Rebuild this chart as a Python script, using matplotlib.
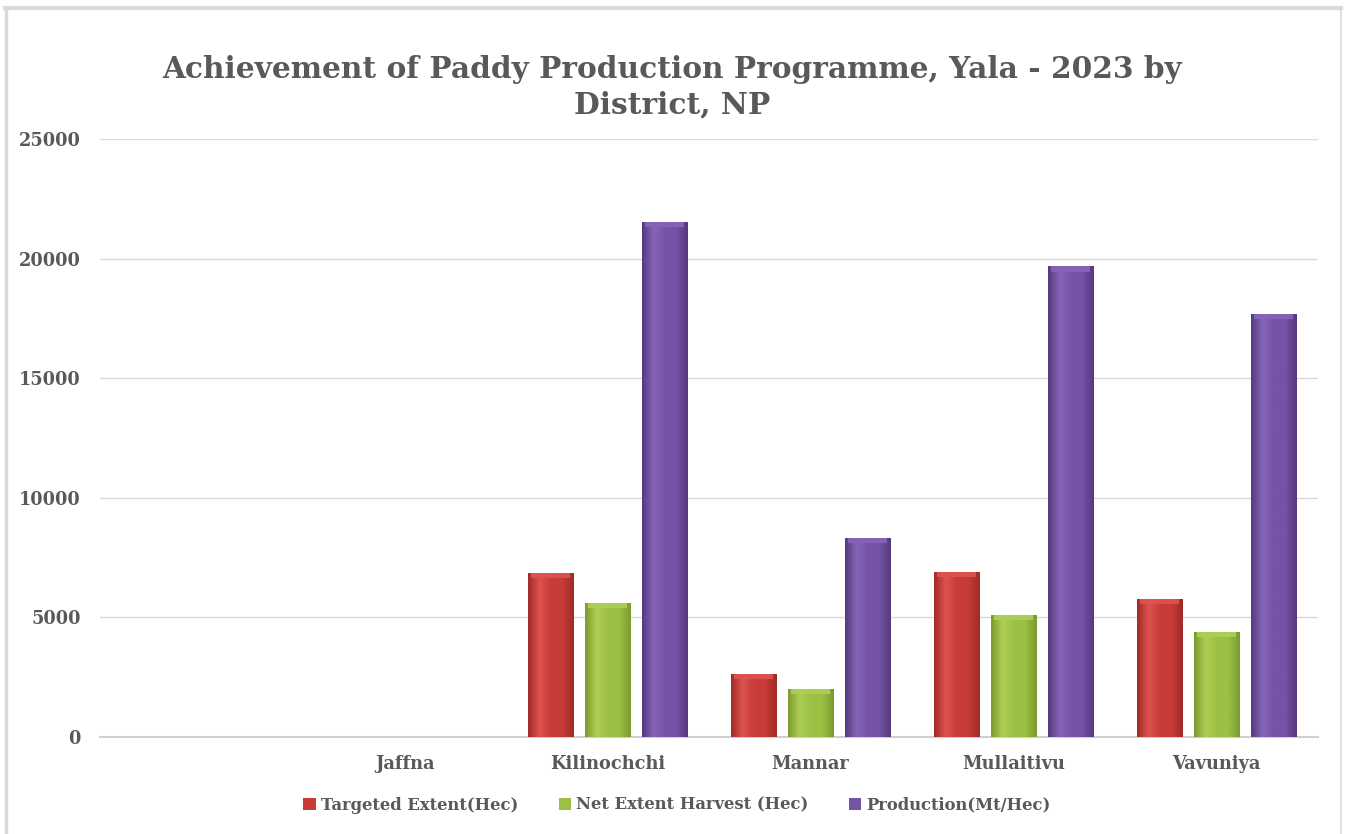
import matplotlib
matplotlib.use("Agg")
import matplotlib.pyplot as plt
import numpy as np
from matplotlib.patches import Rectangle
from matplotlib.colors import LinearSegmentedColormap

# ---- data ----
districts = ["", "Jaffna", "Kilinochchi", "Mannar", "Mullaitivu", "Vavuniya"]
targeted_extent = [0, 0, 6850, 2650, 6900, 5780]
net_extent_harvest = [0, 0, 5620, 2000, 5100, 4380]
production = [0, 0, 21550, 8320, 19680, 17680]
series_names = ["Targeted Extent(Hec)", "Net Extent Harvest (Hec)", "Production(Mt/Hec)"]
yticks = [0, 5000, 10000, 15000, 20000, 25000]
title = "Achievement of Paddy Production Programme, Yala - 2023 by\nDistrict, NP"

# ---- style ----
W, H = 1347, 834
fig = plt.figure(figsize=(W / 100, H / 100), dpi=100)
fig.patch.set_facecolor("white")
txt_col = "#595959"
serif = ["DejaVu Serif"]

# outer chart frame (top, left, right)
fig.add_artist(plt.Line2D([5 / W, 1341 / W], [1 - 8 / H, 1 - 8 / H], color="#d9d9d9", lw=3, transform=fig.transFigure))
fig.add_artist(plt.Line2D([6.5 / W, 6.5 / W], [0, 1 - 8 / H], color="#d9d9d9", lw=2.5, transform=fig.transFigure))
fig.add_artist(plt.Line2D([1340.5 / W, 1340.5 / W], [0, 1 - 8 / H], color="#d9d9d9", lw=1.2, transform=fig.transFigure))

ax = fig.add_axes([100 / W, 1 - 737 / H, (1318 - 100) / W, (737 - 139) / H])
x = np.arange(len(districts))
bw = 0.222
gap = 0.059
offsets = [-(bw + gap), 0, (bw + gap)]
base_cols = ["#C83B37", "#9BC043", "#7553A6"]
light_cols = ["#DE5350", "#ADCF55", "#8665B8"]
dark_cols = ["#A02A27", "#7B9B2E", "#56397F"]
values = [targeted_extent, net_extent_harvest, production]

for vals, off, c, lc, dc, name in zip(values, offsets, base_cols, light_cols, dark_cols, series_names):
    bars = ax.bar(x + off, vals, width=bw, color=c, label=name, zorder=3, edgecolor="none")
    cmap = LinearSegmentedColormap.from_list("g", [dc, lc, c, c, dc])
    for b in bars:
        if b.get_height() <= 0:
            continue
        x0, y0 = b.get_x(), b.get_y()
        w, h = b.get_width(), b.get_height()
        grad = np.linspace(0, 1, 64).reshape(1, -1)
        im = ax.imshow(grad, cmap=cmap, aspect="auto", extent=(x0, x0 + w, y0, y0 + h),
                       zorder=4, interpolation="bicubic")
        im.set_clip_path(b)
        # top bevel highlight
        ax.add_patch(Rectangle((x0 + w * 0.06, y0 + h - 220), w * 0.88, 220, facecolor=lc,
                               edgecolor="none", zorder=5, alpha=0.9))

ax.set_xlim(-0.5, len(districts) - 0.5)
ax.set_ylim(0, 25000)
ax.set_yticks(yticks)
ax.set_yticklabels([str(v) for v in yticks])
ax.set_xticks(x)
ax.set_xticklabels(districts)
ax.grid(axis="y", color="#d9d9d9", lw=1, zorder=0)
ax.set_axisbelow(True)
for s in ["top", "right", "left"]:
    ax.spines[s].set_visible(False)
ax.spines["bottom"].set_color("#d0d0d0")
ax.spines["bottom"].set_linewidth(1.5)
ax.tick_params(axis="both", length=0, colors=txt_col)
ax.tick_params(axis="y", pad=14)
ax.tick_params(axis="x", pad=13)
for lab in ax.get_yticklabels() + ax.get_xticklabels():
    lab.set_fontfamily(serif)
    lab.set_fontweight("bold")
    lab.set_fontsize(12.8)
    lab.set_color(txt_col)

fig.text(672 / W, 1 - 87 / H, title, ha="center", va="center", fontsize=21.3, fontweight="bold",
         family=serif, color=txt_col, linespacing=1.3)

leg = fig.legend(loc="center", bbox_to_anchor=(677 / W, 1 - 805 / H), ncol=3, frameon=False,
                 handlelength=0.75, handleheight=0.75, handletextpad=0.3, columnspacing=2.5,
                 prop={"family": serif, "weight": "bold", "size": 11.8})
for t in leg.get_texts():
    t.set_color(txt_col)

fig.savefig("out.png", dpi=100, facecolor="white")
